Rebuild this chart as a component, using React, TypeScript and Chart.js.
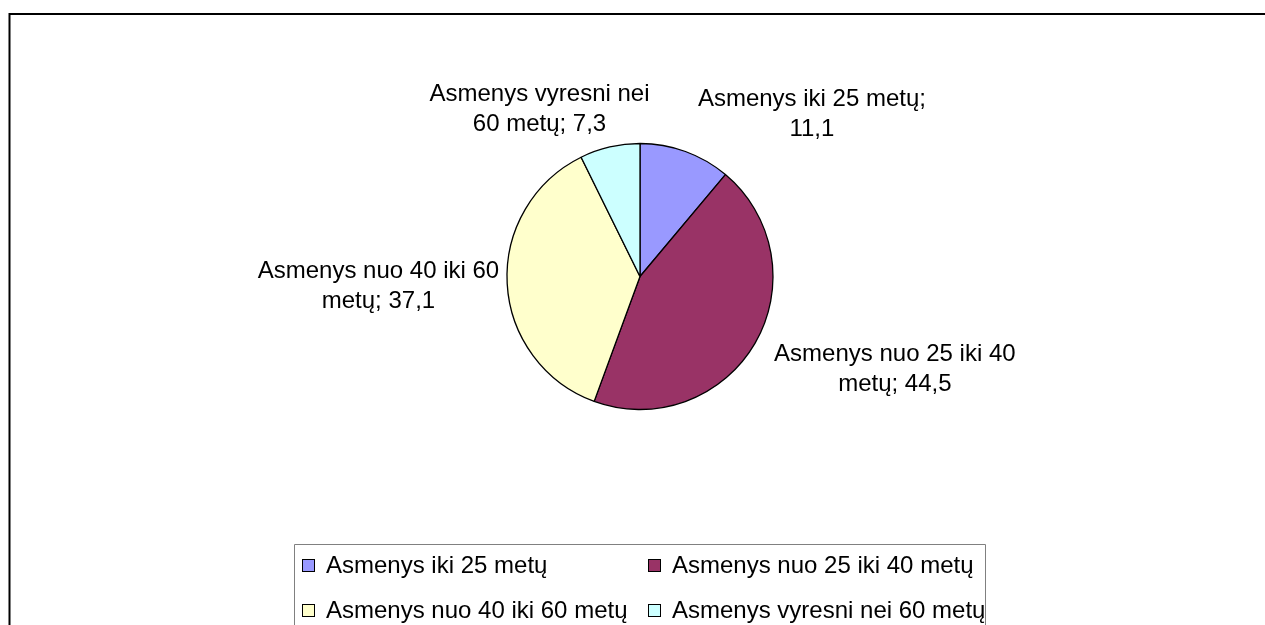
import React, { useEffect, useRef } from "react";
import { Chart, registerables } from "chart.js";

Chart.register(...registerables);

const categories = [
  "Asmenys iki 25 metų",
  "Asmenys nuo 25 iki 40 metų",
  "Asmenys nuo 40 iki 60 metų",
  "Asmenys vyresni nei 60 metų",
];
const values = [11.1, 44.5, 37.1, 7.3];
const sliceColors = ["#9999FF", "#993366", "#FFFFCC", "#CCFFFF"];

const FONT = '24px "Liberation Sans", Arial, sans-serif';
const LINE_H = 30;
const WRAP_W = 250;

function wrapText(ctx: CanvasRenderingContext2D, text: string, maxW: number): string[] {
  const words = text.split(" ");
  const lines: string[] = [];
  let cur = "";
  for (const w of words) {
    const test = cur ? cur + " " + w : w;
    if (cur && ctx.measureText(test).width > maxW) {
      lines.push(cur);
      cur = w;
    } else {
      cur = test;
    }
  }
  if (cur) lines.push(cur);
  return lines;
}

const clamp = (v: number, lo: number, hi: number) => Math.max(lo, Math.min(hi, v));

const labelPlugin = {
  id: "excelLabels",
  afterDatasetsDraw(chart: any) {
    const ctx: CanvasRenderingContext2D = chart.ctx;
    const meta = chart.getDatasetMeta(0);
    const labels: string[] = chart.data.labels;
    const data: number[] = chart.data.datasets[0].data;
    ctx.save();
    ctx.font = FONT;
    ctx.fillStyle = "#000";
    ctx.textAlign = "center";
    ctx.textBaseline = "middle";
    meta.data.forEach((arc: any, i: number) => {
      const p = arc.getProps(["x", "y", "startAngle", "endAngle", "outerRadius"], true);
      const mid = (p.startAngle + p.endAngle) / 2;
      const R = p.outerRadius + 8;
      const px = p.x + Math.cos(mid) * R;
      const py = p.y + Math.sin(mid) * R;
      const s = Math.cos(mid);
      const c = -Math.sin(mid);
      const txt = `${labels[i]}; ${String(data[i]).replace(".", ",")}`;
      const lines = wrapText(ctx, txt, WRAP_W);
      const W = Math.max(...lines.map((l) => ctx.measureText(l).width));
      const H = lines.length * LINE_H;
      const cx = px + clamp(1.5 * s + 0.03, -0.5, 0.55) * W;
      const cy = py + clamp(-0.75 * c, -0.5, 0.5) * H;
      lines.forEach((l, k) => {
        ctx.fillText(l, cx, cy - H / 2 + LINE_H * (k + 0.5));
      });
    });
    ctx.restore();
  },
  afterDraw(chart: any) {
    const ctx: CanvasRenderingContext2D = chart.ctx;
    const labels: string[] = chart.data.labels;
    const colors: string[] = chart.data.datasets[0].backgroundColor;
    ctx.save();
    // outer frame
    ctx.strokeStyle = "#000";
    ctx.lineWidth = 2;
    ctx.beginPath();
    ctx.moveTo(9.5, 630);
    ctx.lineTo(9.5, 14);
    ctx.lineTo(1270, 14);
    ctx.stroke();
    // legend box
    const lx = 294, ly = 544, lw = 691;
    ctx.strokeStyle = "#808080";
    ctx.lineWidth = 1;
    ctx.beginPath();
    ctx.moveTo(lx + 0.5, 630);
    ctx.lineTo(lx + 0.5, ly + 0.5);
    ctx.lineTo(lx + lw + 0.5, ly + 0.5);
    ctx.lineTo(lx + lw + 0.5, 630);
    ctx.stroke();
    ctx.font = FONT;
    ctx.textAlign = "left";
    ctx.textBaseline = "middle";
    const colX = [302, 648];
    const rowY = [565, 610];
    labels.forEach((lab, i) => {
      const x = colX[i % 2];
      const y = rowY[Math.floor(i / 2)];
      ctx.fillStyle = colors[i];
      ctx.fillRect(x, y - 6, 12, 12);
      ctx.strokeStyle = "#000";
      ctx.strokeRect(x + 0.5, y - 5.5, 12, 12);
      ctx.fillStyle = "#000";
      ctx.fillText(lab, x + 24, y + 1);
    });
    ctx.restore();
  },
};

export default function App() {
  const ref = useRef<HTMLCanvasElement | null>(null);
  useEffect(() => {
    if (!ref.current) return;
    const chart = new Chart(ref.current, {
      type: "pie",
      data: {
        labels: categories,
        datasets: [
          {
            data: values,
            backgroundColor: sliceColors,
            borderColor: "#000",
            borderWidth: 1.3,
            radius: 133,
          } as any,
        ],
      },
      options: {
        responsive: false,
        animation: false,
        layout: { padding: { top: 143, bottom: 215, left: 15, right: 0 } },
        plugins: {
          legend: { display: false },
          tooltip: { enabled: false },
        },
      },
      plugins: [labelPlugin],
    });
    return () => chart.destroy();
  }, []);
  return (
    <div style={{ position: "absolute", left: 0, top: 0, width: 1265, height: 625, background: "#fff" }}>
      <canvas ref={ref} width={1265} height={625} style={{ display: "block" }} />
    </div>
  );
}
